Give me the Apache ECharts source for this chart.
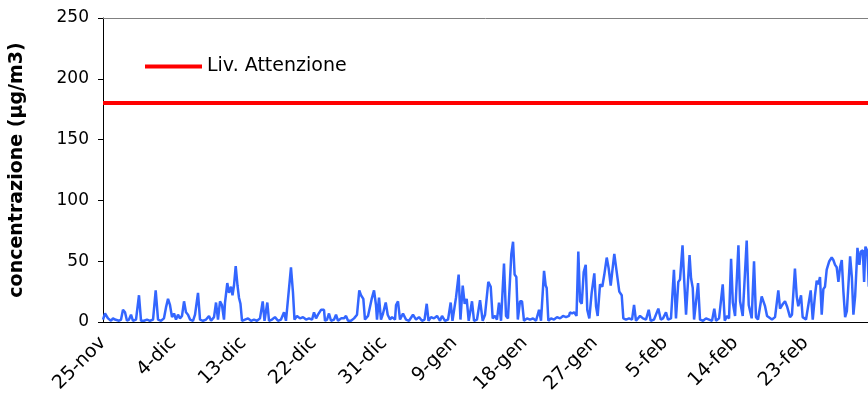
<!DOCTYPE html>
<html>
<head>
<meta charset="utf-8">
<script src="https://cdn.jsdelivr.net/npm/echarts@6/dist/echarts.min.js"></script>
<style>
  html, body { margin:0; padding:0; background:#fff; }
  #chart { width:868px; height:404px; }
</style>
</head>
<body>
<div id="chart"></div>
<script>

// giorni dal 25-nov (frazione = ora del giorno) e concentrazioni
const giorni = [
  0,0.26,0.64,1.02,1.28,1.54,1.79,2.05,2.31,2.56,2.82,3.07,3.33,3.59,3.84,4.23,4.61,4.87,5.25,5.64,
  6.02,6.41,6.75,7.05,7.43,7.81,8.07,8.33,8.58,8.84,9.1,9.35,9.61,9.86,10.12,10.38,10.63,10.89,11.15,11.53,
  11.79,12.17,12.43,12.81,13.2,13.58,13.84,
  14.22,14.48,14.73,14.99,15.24,15.5,15.63,15.92,16.14,16.4,16.59,16.78,17.0,17.23,17.42,17.61,17.81,18.19,
  18.58,18.96,19.34,19.73,20.11,20.46,20.69,21.05,21.27,21.65,22.03,22.42,22.8,23.19,23.44,23.79,24.08,24.34,
  24.53,24.85,25.24,25.62,26.01,26.39,26.78,27.03,27.29,27.54,27.93,28.31,28.44,
  28.7,28.95,29.21,29.6,29.85,30.11,30.5,30.87,31.13,31.39,31.77,32.16,32.54,32.83,33.05,33.35,33.56,33.95,
  34.2,34.42,34.72,34.97,35.1,35.36,35.61,35.87,36.22,36.47,36.77,37.02,37.41,37.54,37.79,38.05,38.43,38.82,
  39.2,39.71,40.1,40.48,40.87,41.19,41.47,41.7,
  42.02,42.4,42.79,43.17,43.43,43.81,44.2,44.54,44.77,45.22,45.56,45.79,46.08,46.33,46.59,46.85,47.27,47.53,
  47.91,48.3,48.64,48.94,49.36,49.67,49.92,50.22,50.47,50.73,50.99,51.37,51.63,51.88,52.31,52.53,52.73,52.95,
  53.14,53.42,53.68,53.93,54.32,54.7,55.09,55.47,55.86,56.11,
  56.5,56.71,56.84,57.05,57.4,57.78,58.16,58.55,58.93,59.32,59.7,59.83,60.09,60.35,60.66,60.89,61.11,61.33,
  61.58,61.84,62.04,62.3,62.6,62.94,63.16,63.37,63.67,63.96,64.22,64.53,64.78,65.04,65.3,65.5,65.81,66.14,
  66.45,66.66,67.0,67.39,67.77,68.03,68.28,68.8,69.18,69.56,69.91,70.16,
  70.59,71.14,71.45,71.74,72.12,72.38,72.76,73.14,73.4,73.7,73.92,74.24,74.43,74.69,75.14,75.33,75.55,75.72,
  76.23,76.48,76.87,77.25,77.64,78.02,78.31,78.53,78.92,79.39,79.65,79.94,80.2,80.46,80.68,80.97,81.4,81.61,
  81.95,82.46,82.72,83.1,83.4,83.65,83.91,84.38,
  84.81,85.07,85.32,85.7,86.09,86.51,86.73,87.11,87.37,87.62,88.01,88.26,88.64,88.87,89.07,89.42,89.63,90.06,
  90.31,90.66,90.92,91.21,91.43,91.64,91.85,92.07,92.28,92.49,92.71,93.04,93.35,93.56,93.78,93.99,94.21,94.42,
  94.64,94.85,95.07,95.29,95.71,95.93,96.13,96.35,96.65,96.9,97.08,97.34,97.5,97.67,97.93,98.1
];

const concentrazione = [
  2,7,3,1,3,2,3,1,2,10,8,1,2,6,1,2,22,1,1,2,
  1,2,26,2,1,3,12,19,14,4,7,2,6,3,5,17,8,6,2,1,
  6,24,2,1,2,5,1,
  4,16,2,17,14,2,16,32,24,29,22,30,46,30,20,15,1,2,
  3,1,2,1,3,17,1,16,1,2,4,1,2,8,1,25,45,24,
  2,5,3,4,2,3,2,8,3,6,10,10,1,
  2,7,1,2,6,1,3,3,5,1,1,3,6,26,22,19,2,5,
  5,19,26,14,2,20,2,7,16,6,2,4,2,14,17,2,7,2,
  1,6,2,4,1,2,15,1,
  4,3,5,1,5,1,2,16,1,20,39,2,30,15,19,1,17,1,
  2,18,1,6,33,29,3,5,2,16,1,48,5,3,56,66,39,37,
  2,17,17,1,3,2,3,1,10,1,
  42,30,28,1,3,2,4,3,5,4,5,8,7,8,5,58,17,15,
  41,47,10,3,24,40,13,5,31,29,39,53,44,30,45,56,41,25,
  22,3,2,3,2,14,1,5,3,2,10,1,
  2,11,2,3,8,2,3,43,3,33,35,63,37,6,55,36,28,2,
  32,2,1,3,2,1,11,1,3,31,1,5,3,52,16,5,63,17,
  5,67,14,3,50,4,2,21,
  13,5,4,2,4,26,11,15,17,13,4,6,44,21,13,22,4,2,
  1,26,2,22,34,31,37,6,27,29,43,50,53,51,47,45,33,45,
  51,25,4,9,54,37,6,21,61,47,58,59,33,62,58,29
];

const sogliaAttenzione = 180;
const mesi = ['gen','feb','mar','apr','mag','giu','lug','ago','set','ott','nov','dic'];
const inizio = new Date(2007, 10, 25);

const serieMisure = giorni.map((g, i) => [g, concentrazione[i]]);

const chart = echarts.init(document.getElementById('chart'));

const font = 'DejaVu Sans';

chart.setOption({
  animation: false,
  grid: {
    left: 103,
    top: 18,
    right: 0,
    bottom: 82,
    outerBoundsMode: 'none'
  },
  legend: {
    data: ['Liv. Attenzione'],
    left: 140,
    top: 52,
    icon: 'rect',
    itemWidth: 57,
    itemHeight: 4,
    textStyle: { fontFamily: font, fontSize: 19, color: '#000' }
  },
  xAxis: [
    {
      type: 'value',
      min: 0,
      max: 98,
      interval: 9,
      splitLine: { show: false },
      axisLine: { lineStyle: { color: '#000', width: 1 } },
      axisTick: { show: false },
      axisLabel: {
        rotate: 45,
        margin: 18,
        showMaxLabel: false,
        fontFamily: font,
        fontSize: 19,
        color: '#000',
        formatter: function (v) {
          const d = new Date(inizio.getTime());
          d.setDate(d.getDate() + Math.round(v));
          return d.getDate() + '-' + mesi[d.getMonth()];
        }
      }
    },
    {
      // bordo superiore dell'area del grafico
      type: 'value',
      position: 'top',
      min: 0,
      max: 98,
      axisLine: { show: true, onZero: false, lineStyle: { color: '#808080', width: 1 } },
      axisTick: { show: false },
      axisLabel: { show: false },
      splitLine: { show: false }
    }
  ],
  yAxis: {
    type: 'value',
    min: 0,
    max: 250,
    interval: 50,
    name: 'concentrazione (µg/m3)',
    nameLocation: 'middle',
    nameGap: 76,
    nameTextStyle: { fontFamily: font, fontSize: 19, fontWeight: 'bold', color: '#000' },
    splitLine: { show: false },
    axisLine: { show: true, lineStyle: { color: '#000', width: 1 } },
    axisTick: { show: true, inside: false, length: 5, lineStyle: { color: '#000' } },
    axisLabel: { margin: 14, fontFamily: font, fontSize: 17, color: '#000' }
  },
  series: [
    {
      name: 'concentrazione',
      type: 'line',
      data: serieMisure,
      showSymbol: false,
      lineStyle: { color: '#3366ff', width: 2.5 },
      itemStyle: { color: '#3366ff' },
      z: 3
    },
    {
      name: 'Liv. Attenzione',
      type: 'line',
      data: [[0, sogliaAttenzione], [98, sogliaAttenzione]],
      showSymbol: false,
      lineStyle: { color: '#ff0000', width: 4 },
      itemStyle: { color: '#ff0000' },
      z: 4
    }
  ]
});

</script>
</body>
</html>
